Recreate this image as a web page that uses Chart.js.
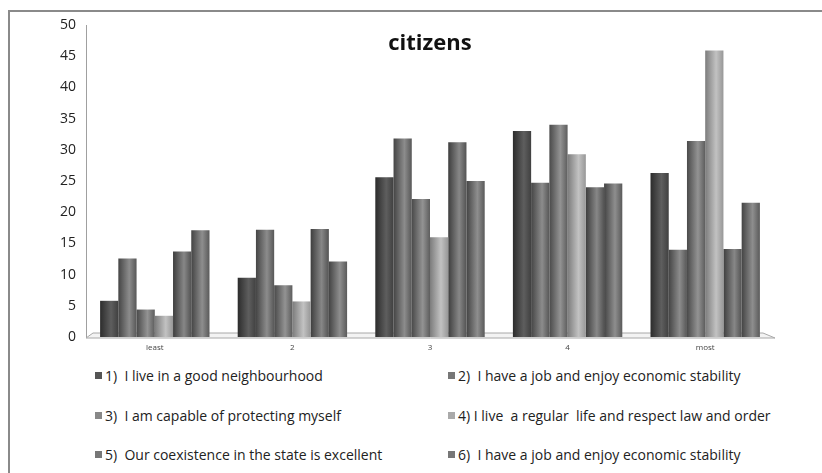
<!DOCTYPE html>
<html>
<head>
<meta charset="utf-8">
<script src="https://cdn.jsdelivr.net/npm/chart.js@4.4.1/dist/chart.umd.min.js"></script>
<style>
    body { margin: 0; background: #fff; font-family: "Open Sans", sans-serif; }
    #wrap { position: relative; width: 822px; height: 473px; overflow: hidden; }
    #frame { position: absolute; left: 8px; top: 10px; width: 840px; height: 490px; border: 2px solid #8a8a8a; box-sizing: border-box; }
    #chartBox { position: absolute; left: 0; top: 0; width: 822px; height: 360px; }
    .legend-item { position: absolute; display: flex; align-items: center; height: 18px; font-size: 14px; color: #222; white-space: pre; }
    .legend-item .box { width: 7px; height: 7px; margin-right: 3px; }
</style>
</head>
<body>
<div id="wrap">
    <div id="frame"></div>
    <div id="chartBox"><canvas id="myBarChart"></canvas></div>
    <div id="legend"></div>
</div>
<script>
const categories = ['least', '2', '3', '4', 'most'];
const seriesLabels = [
    '1)  I live in a good neighbourhood',
    '2)  I have a job and enjoy economic stability',
    '3)  I am capable of protecting myself',
    '4) I live  a regular  life and respect law and order',
    '5)  Our coexistence in the state is excellent',
    '6)  I have a job and enjoy economic stability'
];
const series1 = [5.8, 9.5, 25.6, 33.0, 26.3];
const series2 = [12.6, 17.2, 31.8, 24.7, 14.0];
const series3 = [4.4, 8.3, 22.1, 34.0, 31.4];
const series4 = [3.4, 5.7, 16.0, 29.3, 45.9];
const series5 = [13.7, 17.3, 31.2, 24.0, 14.1];
const series6 = [17.1, 12.1, 25.0, 24.6, 21.5];
const yTicks = [0, 5, 10, 15, 20, 25, 30, 35, 40, 45, 50];

// grey shades for the cylinder look: [left edge, highlight, right edge]
const shades = [
    ['#2c2c2c', '#5e5e5e', '#404040'],
    ['#454545', '#8c8c8c', '#575757'],
    ['#4a4a4a', '#939393', '#5d5d5d'],
    ['#7c7c7c', '#c2c2c2', '#979797'],
    ['#3e3e3e', '#878787', '#535353'],
    ['#444444', '#8e8e8e', '#5a5a5a']
];
const legendColors = ['#555555', '#777777', '#888888', '#aaaaaa', '#777777', '#777777'];

const allSeries = [series1, series2, series3, series4, series5, series6];

// floor of the 3d plot
const floorPlugin = {
    id: 'floor',
    beforeDatasetsDraw(chart) {
        const { ctx, chartArea } = chart;
        const l = chartArea.left, r = chartArea.right, b = chartArea.bottom;
        ctx.save();
        ctx.beginPath();
        ctx.moveTo(l, b + 1);
        ctx.lineTo(l + 7, b - 4);
        ctx.lineTo(r - 11, b - 4);
        ctx.lineTo(r + 1, b + 1);
        ctx.closePath();
        ctx.fillStyle = '#f3f3f3';
        ctx.fill();
        ctx.strokeStyle = '#a8a8a8';
        ctx.lineWidth = 1;
        ctx.stroke();
        ctx.restore();
    }
};

// horizontal gradient on every bar
const shadePlugin = {
    id: 'shade',
    beforeDatasetsDraw(chart) {
        const ctx = chart.ctx;
        chart.data.datasets.forEach((ds, di) => {
            const meta = chart.getDatasetMeta(di);
            meta.data.forEach(bar => {
                const x0 = bar.x - bar.width / 2;
                const x1 = bar.x + bar.width / 2;
                const g = ctx.createLinearGradient(x0, 0, x1, 0);
                g.addColorStop(0, shades[di][0]);
                g.addColorStop(0.6, shades[di][1]);
                g.addColorStop(1, shades[di][2]);
                bar.options = Object.assign({}, bar.options, { backgroundColor: g });
            });
        });
    }
};

const ctx = document.getElementById('myBarChart').getContext('2d');
const chart = new Chart(ctx, {
    type: 'bar',
    data: {
        labels: categories,
        datasets: allSeries.map((values, i) => ({
            label: seriesLabels[i],
            data: values,
            backgroundColor: legendColors[i],
            borderWidth: 0,
            barPercentage: 1,
            categoryPercentage: 0.795
        }))
    },
    options: {
        responsive: true,
        maintainAspectRatio: false,
        animation: false,
        layout: {
            padding: { top: 25, right: 48, bottom: 0, left: 0 }
        },
        scales: {
            y: {
                min: 0,
                max: 50,
                afterFit: scale => { scale.width = 86; },
                afterBuildTicks: scale => { scale.ticks = yTicks.map(v => ({ value: v })); },
                grid: { display: false, drawTicks: false },
                border: { display: true, color: '#a0a0a0', width: 1 },
                ticks: {
                    padding: 10,
                    color: '#222',
                    font: { family: 'Open Sans', size: 14 }
                }
            },
            x: {
                afterFit: scale => { scale.height = 23; },
                grid: { display: false, drawTicks: false },
                border: { display: false },
                ticks: {
                    padding: 6,
                    color: '#444',
                    font: { family: 'Open Sans', size: 8 }
                }
            }
        },
        plugins: {
            legend: { display: false },
            tooltip: { enabled: false },
            title: {
                display: true,
                fullSize: false,
                text: 'citizens',
                color: '#111',
                font: { family: 'Open Sans', size: 22, weight: 'bold' },
                padding: { top: 6, bottom: -32.4 }
            }
        }
    },
    plugins: [floorPlugin, shadePlugin]
});

// legend in two columns, filled row by row
const legendBox = document.getElementById('legend');
const colX = [95, 448];
const rowY = [366, 406, 445];
chart.data.datasets.forEach((ds, i) => {
    const item = document.createElement('div');
    item.className = 'legend-item';
    item.style.left = colX[i % 2] + 'px';
    item.style.top = rowY[Math.floor(i / 2)] + 'px';
    const box = document.createElement('span');
    box.className = 'box';
    box.style.background = legendColors[i];
    const text = document.createElement('span');
    text.textContent = ds.label;
    item.appendChild(box);
    item.appendChild(text);
    legendBox.appendChild(item);
});
</script>
</body>
</html>
